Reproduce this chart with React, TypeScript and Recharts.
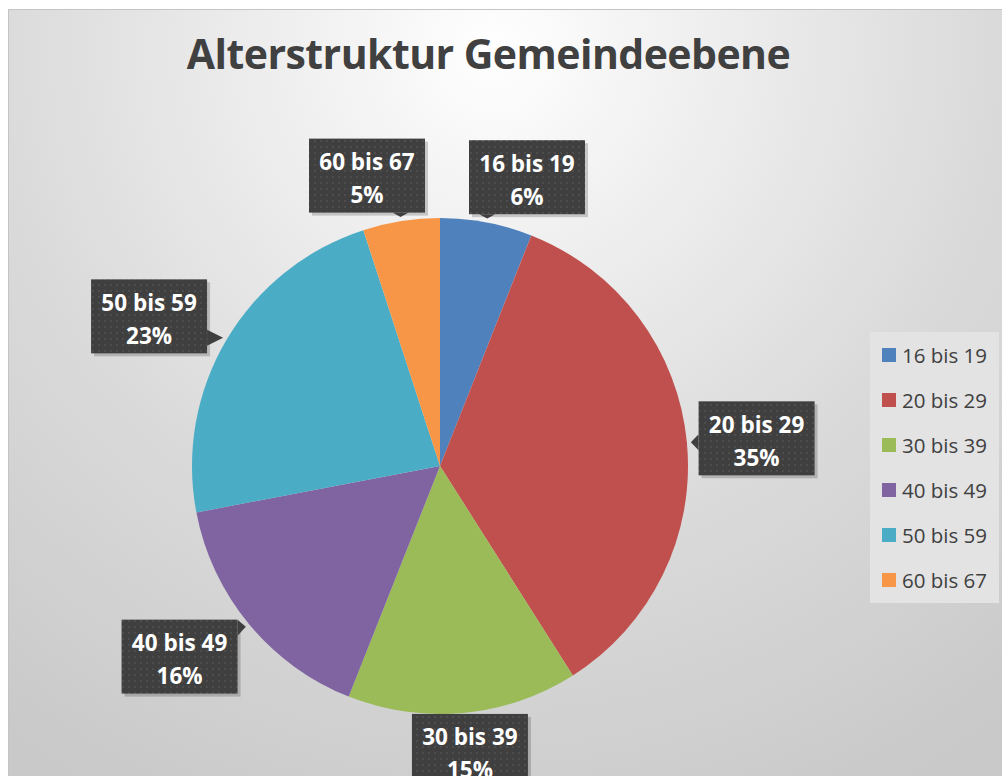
import { PieChart, Pie, Cell, Legend } from "recharts"

const categories = ["16 bis 19", "20 bis 29", "30 bis 39", "40 bis 49", "50 bis 59", "60 bis 67"]
const shares = [6, 35, 15, 16, 23, 5]
const colors = ["#4F81BD", "#C0504D", "#9BBB59", "#8064A2", "#4BACC6", "#F79646"]

const data = categories.map((name, i) => ({ name, value: shares[i] }))

const FONT = '"Open Sans", "Noto Sans", sans-serif'
const RAD = Math.PI / 180
const BOX_W = 116
const BOX_H = 74

function CalloutLabel(props: any) {
  const { cx, cy, midAngle, outerRadius, percent, name, index } = props
  const c = Math.cos(midAngle * RAD)
  const s = Math.sin(midAngle * RAD)
  // label centre placed outside the pie, spread apart near the top
  let dx = (outerRadius + (c < 0 ? 90 : 70)) * c
  let dy = -(outerRadius + (s > 0 ? 46 : 38)) * s
  if (s < 0) dy -= 22 * s * c * c
  if (s > 0.9) dx = Math.sign(dx) * Math.max(Math.abs(dx), 80) + 7
  const bx = cx + dx - BOX_W / 2
  const by = cy + dy - BOX_H / 2
  const tx = cx + (outerRadius + 4) * c
  const ty = cy - (outerRadius + 4) * s

  // pointer from box edge to pie edge
  let pointer: string | null = null
  const clampX = Math.min(Math.max(tx, bx + 8), bx + BOX_W - 8)
  const clampY = Math.min(Math.max(ty, by + 8), by + BOX_H - 8)
  if (ty > by + BOX_H) pointer = `${clampX - 8},${by + BOX_H} ${clampX + 8},${by + BOX_H} ${tx},${ty}`
  else if (ty < by) pointer = `${clampX - 8},${by} ${clampX + 8},${by} ${tx},${ty}`
  else if (tx < bx) pointer = `${bx},${clampY - 8} ${bx},${clampY + 8} ${tx},${ty}`
  else if (tx > bx + BOX_W) pointer = `${bx + BOX_W},${clampY - 8} ${bx + BOX_W},${clampY + 8} ${tx},${ty}`

  return (
    <g>
      {index === 0 && (
        <defs>
          <pattern id="dots" width="6" height="6" patternUnits="userSpaceOnUse">
            <rect width="6" height="6" fill="#3f3f3f" />
            <rect x="2" y="2" width="2" height="2" fill="#4d4d4d" />
          </pattern>
        </defs>
      )}
      <rect x={bx + 3} y={by + 3} width={BOX_W} height={BOX_H} fill="#000" opacity={0.18} />
      {pointer && <polygon points={pointer} fill="#3f3f3f" />}
      <rect x={bx} y={by} width={BOX_W} height={BOX_H} fill="url(#dots)" />
      <text
        x={bx + BOX_W / 2}
        y={by + BOX_H / 2 - 14}
        textAnchor="middle"
        dominantBaseline="central"
        fill="#fff"
        fontFamily={FONT}
        fontWeight={700}
        fontSize={22.5}
      >
        {name}
      </text>
      <text
        x={bx + BOX_W / 2}
        y={by + BOX_H / 2 + 19}
        textAnchor="middle"
        dominantBaseline="central"
        fill="#fff"
        fontFamily={FONT}
        fontWeight={700}
        fontSize={22.5}
      >
        {`${Math.round(percent * 100)}%`}
      </text>
    </g>
  )
}

function LegendBox({ payload }: any) {
  return (
    <div style={{ background: "#e3e3e3", width: 129, height: 271, boxSizing: "border-box" }}>
      {(payload || []).map((p: any) => (
        <div key={p.value} style={{ display: "flex", alignItems: "center", height: 45, paddingLeft: 12 }}>
          <span style={{ width: 14, height: 14, background: p.color, display: "inline-block", marginRight: 6 }} />
          <span style={{ fontFamily: FONT, fontSize: 20.5, color: "#404040" }}>{p.value}</span>
        </div>
      ))}
    </div>
  )
}

export default function App() {
  return (
    <div style={{ position: "fixed", left: 0, top: 0, width: 1002, height: 776, background: "#fff", overflow: "hidden" }}>
      <div
        style={{
          position: "absolute",
          left: 8,
          top: 9,
          width: 1010,
          height: 780,
          border: "1px solid #c4c4c4",
          background:
            "radial-gradient(circle farthest-corner at 48% 5%, #ffffff 0%, #f5f5f5 14%, #dadada 55%, #c9c9c9 92%)",
        }}
      />
      <div
        style={{
          position: "absolute",
          left: 0,
          width: 977,
          top: 25,
          textAlign: "center",
          fontFamily: FONT,
          fontWeight: 700,
          fontSize: 41,
          color: "#404040",
          letterSpacing: -0.55,
        }}
      >
        Alterstruktur Gemeindeebene
      </div>
      <div style={{ position: "absolute", left: 0, top: 0 }}>
        <PieChart width={1002} height={776} margin={{ top: 0, right: 0, bottom: 0, left: 0 }}>
          <Pie
            data={data}
            dataKey="value"
            nameKey="name"
            cx={440}
            cy={466}
            outerRadius={248}
            startAngle={90}
            endAngle={-270}
            stroke="none"
            label={CalloutLabel}
            labelLine={false}
            isAnimationActive={false}
          >
            {data.map((d, i) => (
              <Cell key={d.name} fill={colors[i]} />
            ))}
          </Pie>
          <Legend
            content={<LegendBox />}
            wrapperStyle={{ position: "absolute", left: 870, top: 332, width: 129, height: 271 }}
          />
        </PieChart>
      </div>
    </div>
  )
}
